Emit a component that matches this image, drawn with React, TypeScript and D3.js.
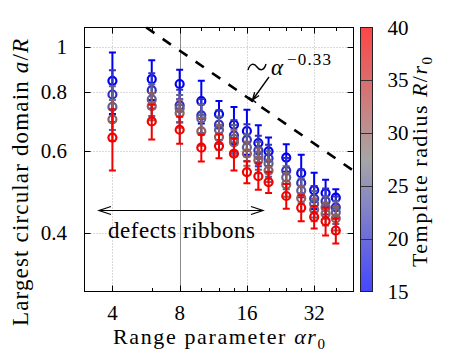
import React from 'react';
import * as d3 from 'd3';

// range parameter alpha*r0 (x) for every measured point
const rangeParams = [4, 6, 8, 10, 12, 14, 16, 18, 20, 24, 28, 32, 36, 40];
const templateRadii = [15, 20, 25, 30, 40];

// largest circular domain a/R, one list per template radius
const domainR15 = [0.846, 0.853, 0.833, 0.766, 0.718, 0.682, 0.661, 0.623, 0.598, 0.58, 0.537, 0.494, 0.487, 0.476];
const domainR20 = [0.791, 0.808, 0.75, 0.714, 0.682, 0.647, 0.633, 0.601, 0.578, 0.544, 0.512, 0.474, 0.468, 0.454];
const domainR25 = [0.744, 0.772, 0.739, 0.703, 0.665, 0.636, 0.61, 0.586, 0.563, 0.526, 0.493, 0.462, 0.454, 0.443];
const domainR30 = [0.7, 0.747, 0.722, 0.66, 0.642, 0.625, 0.592, 0.572, 0.544, 0.508, 0.475, 0.449, 0.44, 0.43];
const domainR40 = [0.64, 0.693, 0.665, 0.609, 0.614, 0.591, 0.54, 0.529, 0.514, 0.48, 0.453, 0.433, 0.424, 0.405];

const errR15 = [0.127, 0.083, 0.06, 0.08, 0.048, 0.062, 0.073, 0.057, 0.042, 0.039, 0.051, 0.044, 0.033, 0.02];
const errR20 = [0.1, 0.07, 0.06, 0.06, 0.05, 0.05, 0.05, 0.045, 0.04, 0.035, 0.035, 0.03, 0.03, 0.025];
const errR25 = [0.08, 0.06, 0.05, 0.05, 0.045, 0.045, 0.04, 0.04, 0.035, 0.03, 0.03, 0.03, 0.025, 0.025];
const errR30 = [0.07, 0.05, 0.05, 0.045, 0.04, 0.04, 0.035, 0.035, 0.03, 0.03, 0.03, 0.025, 0.025, 0.025];
const errR40 = [0.096, 0.059, 0.044, 0.04, 0.036, 0.047, 0.029, 0.034, 0.027, 0.029, 0.029, 0.024, 0.029, 0.025];

const xMajorTicks = [4, 8, 16, 32];
const xMinorTicks = [6, 10, 12, 14, 20, 24, 28, 40];
const yTicks = [0.4, 0.6, 0.8, 1];
const colorbarTicks = [15, 20, 25, 30, 35, 40];

// power law guide a/R ~ alpha^-0.33
const slopeExponent = -0.33;
const slopePrefactor = 1.95;

const serif = { fontFamily: '"Liberation Serif"' };
const italic = { fontFamily: '"Liberation Serif"', fontStyle: 'italic' };

const plot = { left: 84.5, right: 353.5, top: 27.5, bottom: 291.5 };
const x = d3.scaleLog().base(2).domain([3, 48]).range([plot.left, plot.right]);
const y = d3.scaleLog().domain([0.3, 1.1]).range([plot.bottom, plot.top]);
const cbY = d3.scaleLinear().domain([15, 40]).range([plot.bottom, plot.top]);

const markerColor = d3.scaleLinear<string>()
  .domain([15, 27.5, 40])
  .range(['#0000f4', '#767676', '#f40000']);
const barColor = d3.scaleLinear<string>()
  .domain([15, 27.5, 40])
  .range(['#4646ff', '#a6a6a6', '#ff4646']);

const snap = (v: number) => Math.round(v) + 0.5;

const App = () => {
  const series = templateRadii.map((r, k) => ({
    r,
    values: [domainR15, domainR20, domainR25, domainR30, domainR40][k],
    err: [errR15, errR20, errR25, errR30, errR40][k],
  }));

  const aStart = Math.pow(1.1 / slopePrefactor, 1 / slopeExponent);
  const guide = d3.line()([aStart, 48].map(a => [x(a), y(slopePrefactor * Math.pow(a, slopeExponent))] as [number, number]));

  // annotation arrow pointing at the guide line
  const ax0 = 269, ay0 = 77, ax1 = 252.5, ay1 = 100;
  const ang = Math.atan2(ay1 - ay0, ax1 - ax0);
  const hl = 8, ha = 0.35;
  const pointer =
    `M${ax0},${ay0}L${ax1},${ay1}` +
    `M${ax1 - hl * Math.cos(ang - ha)},${ay1 - hl * Math.sin(ang - ha)}L${ax1},${ay1}` +
    `L${ax1 - hl * Math.cos(ang + ha)},${ay1 - hl * Math.sin(ang + ha)}` +
    `M${ax1 - 4.5 * Math.sin(ang)},${ay1 + 4.5 * Math.cos(ang)}L${ax1 + 4.5 * Math.sin(ang)},${ay1 - 4.5 * Math.cos(ang)}`;

  const ry = 210.5, rx0 = 99, rx1 = 263;
  const ribbon =
    `M${rx0},${ry}L${rx1},${ry}` +
    `M${rx0 + 12},${ry - 4}L${rx0},${ry}L${rx0 + 12},${ry + 4}` +
    `M${rx1 - 12},${ry - 4}L${rx1},${ry}L${rx1 - 12},${ry + 4}`;

  const capW = 3.5;

  return (
    <svg width={473} height={355} style={{ position: 'absolute', left: 0, top: 0, background: '#fff' }}>
      <defs>
        <linearGradient id="cbGrad" x1={0} x2={0} y1={1} y2={0}>
          {d3.range(0, 1.0001, 0.1).map(f => (
            <stop key={f} offset={f} stopColor={barColor(15 + 25 * f)} />
          ))}
        </linearGradient>
      </defs>

      {/* grid */}
      <g stroke="#b4b4b4" strokeWidth={1} strokeDasharray="1,2">
        {xMajorTicks.filter(t => t !== 8).map(t => (
          <line key={t} x1={snap(x(t))} x2={snap(x(t))} y1={plot.top} y2={plot.bottom} />
        ))}
        {yTicks.map(t => (
          <line key={t} x1={plot.left} x2={plot.right} y1={snap(y(t))} y2={snap(y(t))} />
        ))}
      </g>
      <line x1={snap(x(8))} x2={snap(x(8))} y1={plot.top} y2={plot.bottom} stroke="#8a8a8a" strokeWidth={1} />

      <path d={guide ?? ''} fill="none" stroke="#000" strokeWidth={2.6} strokeDasharray="10,10" />

      <path d={pointer} fill="none" stroke="#000" strokeWidth={1.3} />
      <path d="M248,70 C250,63 254,63 257,67 C260,71 264,71 266,64" fill="none" stroke="#000" strokeWidth={1.4} />
      <text x={271} y={75} style={{ ...italic, fontSize: '23px' }}>α</text>
      <text x={287} y={65} textLength={44} lengthAdjust="spacing" style={{ ...serif, fontSize: '17px' }}>−0.33</text>

      <path d={ribbon} fill="none" stroke="#000" strokeWidth={1.2} />
      <text x={108} y={238} textLength={147} lengthAdjust="spacing" style={{ ...serif, fontSize: '23px' }}>
        defects ribbons
      </text>

      {/* error bars and open circles */}
      {series.map(s => {
        const col = markerColor(s.r);
        return (
          <g key={s.r} stroke={col} fill="none">
            {s.values.map((v, i) => {
              const cx = x(rangeParams[i]);
              const yt = y(v + s.err[i]);
              const yb = y(v - s.err[i]);
              return (
                <path
                  key={i}
                  strokeWidth={2}
                  d={`M${cx},${yt}L${cx},${yb}M${cx - capW},${yt}L${cx + capW},${yt}M${cx - capW},${yb}L${cx + capW},${yb}`}
                />
              );
            })}
            {s.values.map((v, i) => (
              <circle key={`c${i}`} cx={x(rangeParams[i])} cy={y(v)} r={4} strokeWidth={2.2} />
            ))}
          </g>
        );
      })}

      {/* frame and ticks */}
      <rect x={plot.left} y={plot.top} width={plot.right - plot.left} height={plot.bottom - plot.top} fill="none" stroke="#000" />
      <g stroke="#000" strokeWidth={1}>
        {[...xMajorTicks.map(t => [t, 6]), ...xMinorTicks.map(t => [t, 3.5])].map(([t, len]) => (
          <g key={t}>
            <line x1={snap(x(t))} x2={snap(x(t))} y1={plot.bottom} y2={plot.bottom - len} />
            <line x1={snap(x(t))} x2={snap(x(t))} y1={plot.top} y2={plot.top + len} />
          </g>
        ))}
        {yTicks.map(t => (
          <g key={t}>
            <line x1={plot.left} x2={plot.left + 6} y1={snap(y(t))} y2={snap(y(t))} />
            <line x1={plot.right} x2={plot.right - 6} y1={snap(y(t))} y2={snap(y(t))} />
          </g>
        ))}
      </g>

      {xMajorTicks.map(t => (
        <text key={t} x={x(t)} y={320} textAnchor="middle" style={{ ...serif, fontSize: '21px' }}>{t}</text>
      ))}
      {yTicks.map(t => (
        <text key={t} x={67} y={y(t) + 7} textAnchor="end" style={{ ...serif, fontSize: '21px' }}>
          {t === 1 ? '1' : t.toFixed(1)}
        </text>
      ))}

      <text x={113} y={344} textLength={212} lengthAdjust="spacing" style={{ ...serif, fontSize: '22px' }}>
        Range parameter <tspan style={italic}>αr</tspan>
        <tspan dy={5} style={{ fontSize: '15px' }}>0</tspan>
      </text>
      <text transform="translate(28,326) rotate(-90)" textLength={287} lengthAdjust="spacing" style={{ ...serif, fontSize: '23px' }}>
        Largest circular domain <tspan style={italic}>a</tspan>/<tspan style={italic}>R</tspan>
      </text>

      {/* colour bar */}
      <rect x={360} y={plot.top} width={13} height={plot.bottom - plot.top} fill="url(#cbGrad)" />
      {colorbarTicks.slice(1, -1).map(t => (
        <line key={t} x1={360} x2={373} y1={snap(cbY(t))} y2={snap(cbY(t))} stroke="#333" strokeWidth={1} />
      ))}
      <rect x={360.5} y={plot.top} width={12} height={plot.bottom - plot.top} fill="none" stroke="#222" />
      {colorbarTicks.map(t => (
        <text key={t} x={387.5} y={cbY(t) + 7} style={{ ...serif, fontSize: '21px' }}>{t}</text>
      ))}
      <text transform="translate(427,267) rotate(-90)" textLength={210} lengthAdjust="spacing" style={{ ...serif, fontSize: '22px' }}>
        Template radius <tspan style={italic}>R</tspan>/<tspan style={italic}>r</tspan>
        <tspan dy={5} style={{ fontSize: '15px' }}>0</tspan>
      </text>
    </svg>
  );
};

export default App;
